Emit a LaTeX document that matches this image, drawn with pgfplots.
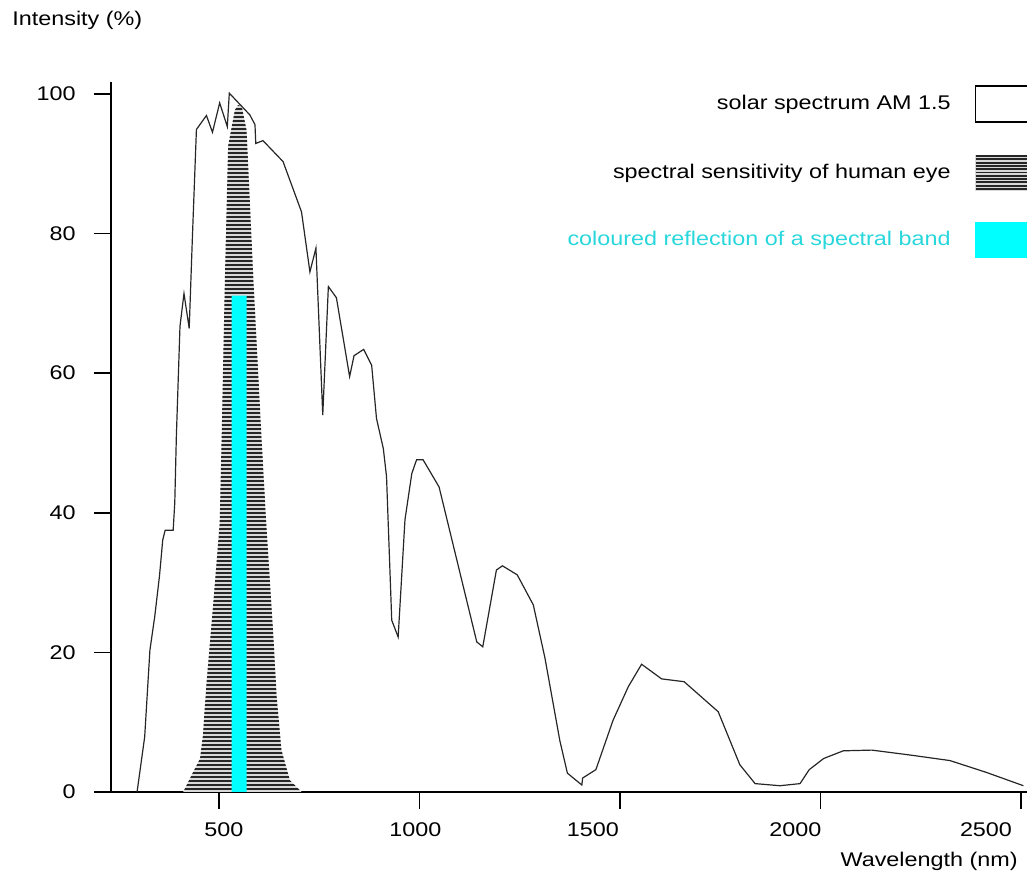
\documentclass[border=0pt]{standalone}
\usepackage{fontspec}
\setmainfont[FakeStretch=1.18]{Liberation Sans}
\usepackage{pgfplots}
\pgfplotsset{compat=1.18}
\usetikzlibrary{patterns.meta}

\definecolor{bandcyan}{RGB}{0,255,255}
\definecolor{bandtext}{RGB}{40,215,220}
% shifted tick label (the original labels sit off their ticks)
\newcommand{\xl}[2]{\makebox[0pt]{\kern#1\relax#2}}

\begin{document}
\fontsize{9.9}{12}\selectfont
\begin{tikzpicture}
\begin{axis}[
  scale only axis, width=458pt, height=355pt,
  xmin=231, xmax=2515, ymin=0, ymax=101.7,
  axis x line=bottom, axis y line=left,
  axis line style={-, line width=1.4pt},
  every outer x axis line/.append style={-},
  every outer y axis line/.append style={-},
  tick align=outside, major tick length=8.5pt,
  tick style={line width=0.8pt, black},
  xtick={500,1000,1500,2000,2500},
  xticklabels={\xl{5pt}{500},\xl{-4pt}{1000},\xl{-27pt}{1500},\xl{-25pt}{2000},\xl{-35pt}{2500}},
  ytick={0,20,...,100},
  /pgf/number format/assume math mode=true,
  xticklabel style={inner sep=0pt, anchor=north},
  yticklabel style={inner sep=0pt, anchor=east},
  xticklabel shift=6.5pt, yticklabel shift=9pt,
  xlabel={Wavelength (nm)}, ylabel={Intensity (\%)},
  every axis x label/.style={at={(rel axis cs:1,0)}, anchor=east, inner sep=0pt, xshift=-4.5pt, yshift=-34.5pt},
  every axis y label/.style={at={(rel axis cs:0,1)}, anchor=west, inner sep=0pt, xshift=-49.5pt, yshift=31pt},
  legend style={at={(rel axis cs:1.0109,0.9958)}, anchor=north east, draw=none, fill=none,
    inner sep=0pt, row sep=16pt, column sep=12pt, nodes={inner sep=0pt}},
  legend cell align=right, legend plot pos=right,
]
\addlegendimage{legend image code/.code={\draw[black, line width=0.6pt, fill=white] (0pt,-9pt) rectangle (30pt,9pt);}}
\addlegendentry{solar spectrum AM 1.5}
\addlegendimage{legend image code/.code={
  \fill[black!15] (0pt,-8.75pt) rectangle (30pt,8.75pt);
  \foreach \i in {0,...,10} {\draw[black!85, line width=0.95pt] (0pt,-8.25pt+1.65pt*\i) -- (30pt,-8.25pt+1.65pt*\i);}}}
\addlegendentry{spectral sensitivity of human eye}
\addlegendimage{legend image code/.code={\fill[bandcyan] (0pt,-8.75pt) rectangle (30pt,8.75pt);}}
\addlegendentry{\textcolor{bandtext}{coloured reflection of a spectral band}}

% spectral sensitivity of the eye
\addplot[forget plot, draw=none, fill=black!15,
  postaction={pattern={Lines[angle=0,distance=2pt,line width=1.15pt]}, pattern color=black!85}]
coordinates {
(411,0)(453,4.8)(460,8)(469,15.5)(486,27)(502,38.5)(507,51)(515,73.4)(523,92.5)
(540,97.7)(548,98.4)(557,98.2)(569,94.8)(586,73.4)(606,51)(619,37.5)(635,23.2)
(644,13.7)(656,6.0)(677,1.7)(706,0)
} \closedcycle;

% reflected band
\addplot[forget plot, draw=none, fill=bandcyan]
coordinates {(532,0)(532,71.1)(569,71.1)(569,0)} \closedcycle;

% solar spectrum AM 1.5
\addplot[forget plot, black!85, line width=0.6pt]
coordinates {
(296,0)(315,7.9)(328,20.3)(340,25.1)(352,31)(360,36.1)(366,37.5)(386,37.5)
(390,41.4)(394,51)(403,66.7)(413,71.4)(426,66.4)(434,79.5)(444,94.9)(469,96.9)
(484,94.5)(502,98.7)(521,95.3)(526,100.1)(577,97)(590,95.6)(592,92.9)(610,93.3)
(660,90.3)(706,83.1)(727,74.5)(742,77.9)(759,54.0)(773,72.4)(793,70.8)(826,59.5)
(837,62.5)(861,63.4)(881,61.1)(893,53.5)(910,49.2)(918,45.2)(931,24.6)(947,22.2)
(964,39.0)(981,45.6)(993,47.6)(1009,47.6)(1049,43.7)(1143,21.5)(1158,20.8)
(1192,31.8)(1207,32.4)(1244,31.1)(1284,26.8)(1313,19.2)(1350,7.4)(1369,2.7)
(1405,1.0)(1407,2.0)(1440,3.2)(1483,10.3)(1521,15.1)(1554,18.3)(1604,16.2)
(1660,15.8)(1745,11.5)(1799,3.9)(1837,1.2)(1899,0.9)(1949,1.2)(1972,3.2)
(2008,4.8)(2057,5.9)(2128,6.0)(2223,5.3)(2323,4.5)(2414,2.8)(2506,0.9)
};

\coordinate (bl) at (rel axis cs:0,0);
\coordinate (tr) at (rel axis cs:1,1);
\end{axis}
\pgfresetboundingbox
\path[use as bounding box] ([xshift=-55.5pt,yshift=-42.5pt]bl) rectangle ([yshift=41pt]tr);
\end{tikzpicture}
\end{document}
